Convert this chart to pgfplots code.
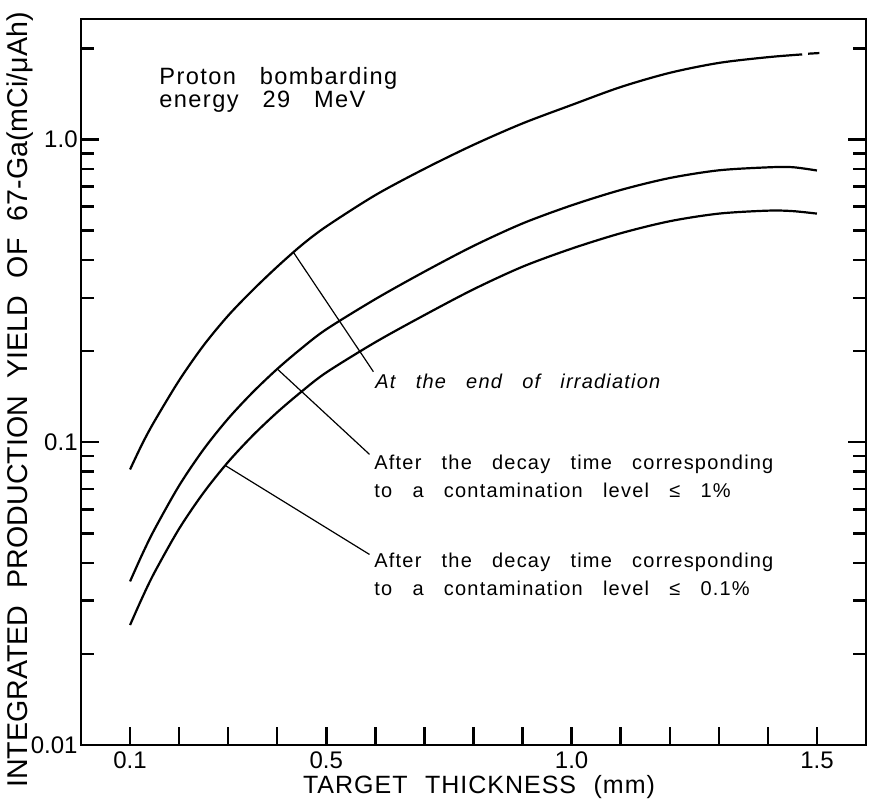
\documentclass[border=0pt]{standalone}
\usepackage{fontspec}
\setmainfont{Liberation Sans}
\newfontfamily\annot{Liberation Sans}[LetterSpace=6,WordSpace=3]
\newfontfamily\lbl{Liberation Sans}[WordSpace=2.2]
\newfontfamily\xlbl{Liberation Sans}[LetterSpace=4,WordSpace=2.2]
\usepackage{pgfplots}
\pgfplotsset{compat=1.18}
\usepackage{pgfplotstable}

\pgfplotstableread{
x y
0.1 0.0813
0.125 0.0989
0.15 0.1175
0.2 0.160
0.25 0.209
0.3 0.262
0.35 0.318
0.4 0.380
0.45 0.448
0.5 0.516
0.6 0.655
0.7 0.80
0.8 0.96
0.9 1.13
1.0 1.30
1.1 1.49
1.2 1.66
1.3 1.79
1.4 1.87
1.47 1.91
}\topcurve
\pgfplotstableread{
x y
1.482 1.92
1.505 1.93
}\topdash
\pgfplotstableread{
x y
0.1 0.0347
0.125 0.0427
0.15 0.0516
0.2 0.0719
0.25 0.0948
0.3 0.1197
0.35 0.1462
0.4 0.1746
0.45 0.2046
0.5 0.236
0.6 0.297
0.7 0.366
0.8 0.445
0.9 0.528
1.0 0.606
1.1 0.681
1.2 0.746
1.3 0.791
1.4 0.809
1.45 0.81
1.5 0.79
}\midcurve
\pgfplotstableread{
x y
0.1 0.0249
0.125 0.0307
0.15 0.0372
0.2 0.0518
0.25 0.0682
0.3 0.0861
0.35 0.1052
0.4 0.1256
0.45 0.1472
0.5 0.170
0.6 0.214
0.7 0.263
0.8 0.32
0.9 0.38
1.0 0.436
1.1 0.49
1.2 0.537
1.3 0.569
1.4 0.582
1.45 0.58
1.5 0.569
}\botcurve

\begin{document}
\begin{tikzpicture}
\begin{axis}[
  scale only axis, width=392.5pt, height=363pt,
  at={(0,0)}, anchor=south west,
  xmin=0, xmax=1.6,
  ymode=log, ymin=0.01, ymax=2.5,
  axis line style={line width=1.3pt},
  tick align=inside,
  xtick pos=left, ytick pos=both,
  xtick={0.1,0.2,0.3,0.4,0.5,0.6,0.7,0.8,0.9,1.0,1.1,1.2,1.3,1.4,1.5},
  xticklabels={0.1,{},{},{},0.5,{},{},{},{},1.0,{},{},{},{},1.5},
  ytick={0.01,0.1,1},
  yticklabels={0.01,0.1,1.0},
  minor ytick={0.02,0.03,0.04,0.05,0.06,0.07,0.08,0.09,0.2,0.3,0.4,0.5,0.6,0.7,0.8,0.9,2},
  major tick length=9pt, minor tick length=6.5pt,
  every tick/.style={black, line width=1.2pt},
  tick label style={font=\fontsize{12}{14}\selectfont},
  yticklabel style={inner sep=1.5pt},
  /pgf/number format/assume math mode=true,
  clip=false,
]
\addplot[black, line width=1.1pt, smooth] table {\topcurve};
\addplot[black, line width=1.1pt] table {\topdash};
\addplot[black, line width=1.1pt, smooth] table {\midcurve};
\addplot[black, line width=1.1pt, smooth] table {\botcurve};
\draw[line width=0.6pt] (axis cs:0.433,0.424) -- (axis cs:0.596,0.171);
\draw[line width=0.6pt] (axis cs:0.4,0.1746) -- (axis cs:0.588,0.0912);
\draw[line width=0.6pt] (axis cs:0.294,0.0838) -- (axis cs:0.588,0.0426);
\end{axis}
% y label
\node[rotate=90, anchor=base, font=\lbl\fontsize{14.3}{16}\selectfont] at (-26.5pt,172.5pt)
  {INTEGRATED PRODUCTION YIELD OF 67-Ga(mCi/μAh)};
% x label
\node[anchor=base, font=\xlbl\fontsize{12.5}{14}\selectfont] at (199pt,-24.5pt)
  {TARGET THICKNESS (mm)};
% Proton text
\node[anchor=base west, inner sep=0pt, font=\annot\fontsize{11.8}{13}\selectfont] at (39pt,330pt) {Proton bombarding};
\node[anchor=base west, inner sep=0pt, font=\annot\fontsize{11.8}{13}\selectfont] at (39pt,318.5pt) {energy 29 MeV};
% annotations
\node[anchor=base west, inner sep=0pt, font=\annot\itshape\fontsize{10}{12}\selectfont] at (147pt,178pt) {At the end of irradiation};
\node[anchor=base west, inner sep=0pt, font=\annot\fontsize{10}{12}\selectfont] at (146.5pt,137.5pt) {After the decay time corresponding};
\node[anchor=base west, inner sep=0pt, font=\annot\fontsize{10}{12}\selectfont] at (146.5pt,123.5pt) {to a contamination level ≤ 1\%};
\node[anchor=base west, inner sep=0pt, font=\annot\fontsize{10}{12}\selectfont] at (146.5pt,88.5pt) {After the decay time corresponding};
\node[anchor=base west, inner sep=0pt, font=\annot\fontsize{10}{12}\selectfont] at (146.5pt,74.5pt) {to a contamination level ≤ 0.1\%};
\pgfresetboundingbox
\useasboundingbox (-40.5pt,-31pt) rectangle (397pt,372.5pt);
\end{tikzpicture}
\end{document}
